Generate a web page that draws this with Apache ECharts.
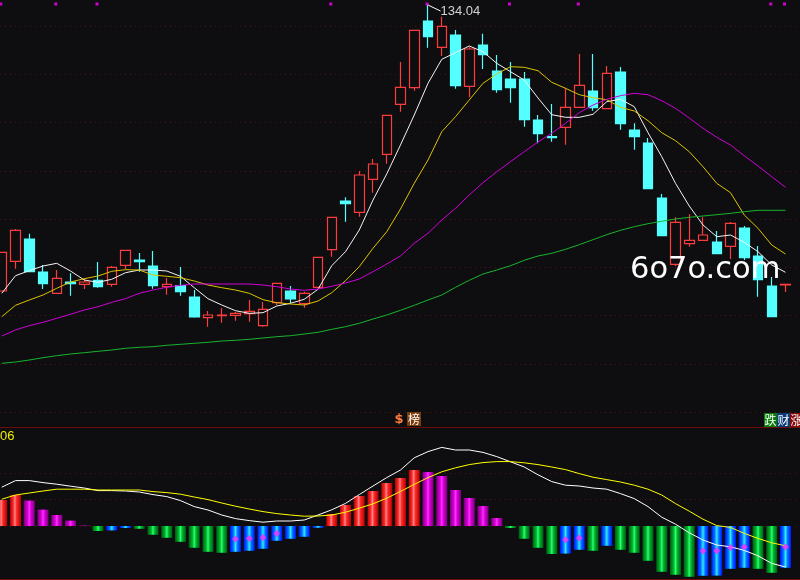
<!DOCTYPE html>
<html>
<head>
<meta charset="utf-8">
<script src="https://cdn.jsdelivr.net/npm/echarts@6/dist/echarts.min.js"></script>
<style>
html,body{margin:0;padding:0;background:#0e0e11;}
#c{width:800px;height:580px;}
</style>
</head>
<body>
<div id="c"></div>
<script>
// ---- data ----
const opens  = [76.84,82.78,87.24,80.64,76.38,78.64,78.18,78.98,78.18,81.98, 83.04,81.84,77.70,77.90,75.64,71.50,71.90,71.98,72.30,69.90, 74.50,76.84,74.30,77.58,85.10,94.84,92.58,99.18,104.18,114.18, 117.50,130.84,125.58,128.04,117.78,126.04,120.84,119.24,119.24,111.04, 107.70,109.58,113.58,116.84,113.30,120.64,109.04,106.44,95.44,82.18, 86.30,86.98,86.64,85.78,89.44,83.84,77.84,78.04];
const closes = [84.58,88.98,80.70,78.30,79.38,78.30,78.64,77.70,81.58,84.98, 82.70,77.90,78.18,76.70,71.64,72.04,72.04,72.38,72.78,73.18, 78.38,75.24,76.38,83.58,91.58,94.30,100.04,102.24,111.98,117.58, 128.98,127.70,129.78,117.90,125.24,124.10,117.10,117.50,111.10,108.30, 107.50,113.58,117.98,113.50,120.38,110.30,107.70,97.30,87.90,90.58, 86.98,88.04,84.30,90.38,83.50,79.10,71.70,78.18];
const lows   = [76.84,81.30,80.70,77.24,76.38,75.90,77.24,77.50,77.70,81.18, 80.70,77.30,76.10,75.90,71.50,69.70,70.50,70.90,70.70,69.64, 73.98,74.38,73.50,77.58,83.70,90.70,91.70,96.50,102.30,112.70, 116.90,125.50,123.84,117.30,115.58,121.24,116.50,114.50,109.70,106.38, 106.70,106.10,113.58,112.90,113.30,109.10,105.10,97.30,87.90,81.84, 85.70,86.98,84.30,83.24,83.04,75.70,71.70,76.64];
const highs  = [84.58,89.24,88.30,82.04,81.04,80.38,79.38,82.64,81.84,84.98, 84.44,84.84,79.44,81.64,77.04,72.84,73.44,72.64,75.04,74.64, 78.38,77.84,76.70,83.58,91.58,95.58,100.84,103.24,111.98,122.64, 128.98,134.04,131.70,129.04,125.70,128.30,124.04,122.64,120.64,112.04, 114.24,117.50,124.24,124.24,121.84,121.64,110.38,107.44,96.24,91.58, 92.18,91.58,88.84,90.64,89.84,85.84,79.64,78.18];

const ma5  = [76.38,79.90,80.90,81.84,82.38,80.84,79.04,78.58,79.18,80.50, 81.04,81.04,80.84,79.78,77.50,75.30,74.04,72.90,72.38,72.50, 73.84,74.38,75.18,77.18,81.90,84.70,89.04,95.04,100.26,106.06, 112.04,118.38,123.18,124.50,125.84,124.70,122.38,120.70,119.04,115.44, 112.10,111.58,111.58,112.18,114.70,115.18,113.70,108.50,103.70,98.38, 93.84,90.04,87.70,88.04,86.58,84.70,82.04,80.58];
const ma10 = [71.70,73.98,75.04,76.04,77.38,78.64,79.30,79.84,80.78,81.10, 81.04,80.04,79.78,79.50,78.84,78.04,77.50,77.04,76.38,75.10, 74.50,74.24,74.04,74.84,76.50,78.90,81.70,85.38,88.70,93.24, 98.38,103.04,108.70,111.70,115.04,118.38,120.24,121.70,121.58,120.90, 118.58,117.38,116.10,115.50,115.10,113.58,112.84,110.90,108.50,106.90, 104.70,101.70,98.38,96.50,92.04,89.38,86.04,84.24];
const ma20 = [67.84,69.04,69.90,70.58,71.38,72.18,73.04,73.70,74.58,75.30, 76.38,77.04,77.58,77.98,78.24,78.24,78.24,78.24,78.24,78.04, 77.70,77.24,76.98,77.24,77.78,78.44,79.24,80.70,82.24,83.84, 86.38,88.38,91.04,93.38,96.04,98.50,100.70,102.70,104.70,106.64, 108.38,110.38,112.50,114.04,115.18,115.90,116.38,116.10,114.90,113.38, 111.44,109.38,107.58,106.04,103.90,101.84,99.70,97.58];
const ma60 = [62.38,62.64,63.04,63.50,63.90,64.24,64.50,64.78,65.04,65.38, 65.58,65.70,65.98,66.18,66.38,66.58,66.84,66.98,67.18,67.44, 67.70,67.90,68.24,68.58,69.18,69.70,70.38,71.24,72.04,72.98, 73.98,75.04,76.04,77.58,78.98,80.24,81.04,81.90,82.98,83.84, 84.38,85.18,86.10,87.10,88.10,88.98,89.70,90.30,90.78,91.24, 91.58,91.84,92.10,92.38,92.70,92.98,92.98,92.98];

const macdHist = [1.30,1.55,1.27,0.82,0.55,0.27,0.02,-0.25,-0.22,-0.10, -0.14,-0.44,-0.59,-0.79,-1.09,-1.29,-1.34,-1.29,-1.24,-1.14, -0.74,-0.64,-0.54,-0.09,0.60,1.05,1.50,1.75,2.15,2.40, 2.80,2.70,2.50,1.80,1.40,1.00,0.40,-0.10,-0.64,-1.09, -1.40,-1.38,-1.19,-1.24,-0.99,-1.19,-1.34,-1.74,-2.29,-2.44, -2.54,-2.49,-2.48,-2.14,-2.09,-2.14,-2.34,-2.09];
const dif = [1.94,2.27,2.27,2.17,2.09,1.99,1.90,1.77,1.77,1.75, 1.70,1.57,1.47,1.27,0.97,0.80,0.55,0.37,0.27,0.19, 0.25,0.25,0.30,0.55,0.81,1.13,1.57,2.00,2.42,2.80, 3.41,3.72,3.93,3.80,3.80,3.68,3.47,3.21,2.95,2.56, 2.22,2.04,2.00,1.90,1.84,1.62,1.37,0.97,0.44,0.09, -0.34,-0.70,-0.95,-1.04,-1.22,-1.49,-1.87,-2.05];
const dea = [1.34,1.55,1.65,1.75,1.84,1.84,1.84,1.80,1.80,1.80, 1.80,1.72,1.67,1.59,1.45,1.32,1.15,0.99,0.85,0.72, 0.62,0.55,0.49,0.50,0.55,0.69,0.89,1.11,1.39,1.73, 2.08,2.42,2.71,2.91,3.07,3.17,3.22,3.22,3.16,3.07, 2.95,2.82,2.62,2.44,2.32,2.20,2.04,1.84,1.55,1.12, 0.74,0.34,0.02,-0.07,-0.37,-0.62,-0.84,-0.99];

const signalIdx = [17,18,19,20,41,42,51,52,53,54,57];   // diamonds on MACD bars
const markerIdx = [0,4,7,24,31,37,42,56,57];           // small squares at the top
const categories = opens.map((_, i) => 'D' + (i + 1));
const macdLabel = '06';
const watermark = '6o7o.com';

// ---- chart ----
const BG = '#0e0e11';
const PRICE_MIN = 49.64, PRICE_MAX = 135.04;
const GRIDLINE = {show: true, lineStyle: {color: '#4a1212', type: [1, 4], width: 1}};

function grad(stops) {
  return {type: 'linear', x: 0, y: 0, x2: 1, y2: 0,
    colorStops: stops.map(s => ({offset: s[0], color: s[1]}))};
}
const RED   = grad([[0,'#b00000'],[0.3,'#ff2a2a'],[0.45,'#ff8a8a'],[0.6,'#ff2a2a'],[1,'#b00000']]);
const MAG   = grad([[0,'#7a007a'],[0.35,'#d800d8'],[0.5,'#ff30ff'],[0.65,'#d800d8'],[1,'#7a007a']]);
const GREEN = grad([[0,'#005a10'],[0.35,'#00b830'],[0.5,'#30ff70'],[0.65,'#00b830'],[1,'#005a10']]);
const BLUE  = grad([[0,'#0010ff'],[0.3,'#0070ff'],[0.5,'#30e8ff'],[0.7,'#0070ff'],[1,'#0010ff']]);

const barData = macdHist.map((v, i) => {
  const rising = i === 0 ? true : v >= macdHist[i - 1];
  const c = v >= 0 ? (rising ? RED : MAG) : (rising ? BLUE : GREEN);
  return {value: v, itemStyle: {color: c}};
});

let hi = 0;
highs.forEach((h, i) => { if (h > highs[hi]) hi = i; });

function maLine(data, color) {
  return {type: 'line', xAxisIndex: 0, yAxisIndex: 0, data: data, symbol: 'none',
    smooth: false, silent: true, lineStyle: {color: color, width: 1}, z: 3};
}

const chart = echarts.init(document.getElementById('c'), null, {renderer: 'canvas'});
const option = {
  backgroundColor: BG,
  animation: false,
  grid: [
    {left: -5.125, width: 797.5, top: 0, height: 427, outerBoundsMode: 'none'},
    {left: 0, right: 0, top: 26, height: 386, outerBoundsMode: 'none'},
    {left: -5.125, width: 797.5, top: 427, height: 152, outerBoundsMode: 'none'},
    {left: 0, right: 0, top: 473, height: 53, outerBoundsMode: 'none'},
    {left: -3, right: -3, top: 427.5, height: 152, show: true, borderColor: '#6e0c0c', borderWidth: 1, backgroundColor: 'transparent', outerBoundsMode: 'none'}
  ],
  xAxis: [
    {type: 'category', gridIndex: 0, data: categories, show: false},
    {type: 'value', gridIndex: 1, min: 0, max: 1, show: false},
    {type: 'category', gridIndex: 2, data: categories, show: false},
    {type: 'value', gridIndex: 3, min: 0, max: 1, show: false},
    {type: 'value', gridIndex: 4, min: 0, max: 1, show: false}
  ],
  yAxis: [
    {type: 'value', gridIndex: 0, min: PRICE_MIN, max: PRICE_MAX, show: false},
    {type: 'value', gridIndex: 1, min: 0, max: 8, interval: 1, axisLine: {show: false}, axisTick: {show: false}, axisLabel: {show: false}, splitLine: GRIDLINE},
    {type: 'value', gridIndex: 2, min: -2.65, max: 4.95, show: false},
    {type: 'value', gridIndex: 3, min: 0, max: 2, interval: 1, axisLine: {show: false}, axisTick: {show: false}, axisLabel: {show: false}, splitLine: GRIDLINE},
    {type: 'value', gridIndex: 4, min: 0, max: 1, show: false}
  ],
  series: [
    {
      type: 'candlestick', xAxisIndex: 0, yAxisIndex: 0, silent: true,
      data: opens.map((o, i) => [o, closes[i], lows[i], highs[i]]),
      barWidth: 10,
      itemStyle: {color: BG, color0: '#54ffff', borderColor: '#ff3c3c', borderColor0: '#54ffff', borderWidth: 1.2},
      z: 2
    },
    maLine(ma5, '#f4f4f4'),
    maLine(ma10, '#dcc400'),
    maLine(ma20, '#d000d8'),
    maLine(ma60, '#18b42c'),
    {
      type: 'scatter', xAxisIndex: 0, yAxisIndex: 0, silent: true,
      data: markerIdx.map(i => [i, PRICE_MAX - 0.8]),
      symbol: 'rect', symbolSize: 3, symbolOffset: [-1, 0],
      itemStyle: {color: '#ff00ff'}, z: 4
    },
    {
      type: 'scatter', xAxisIndex: 0, yAxisIndex: 0, silent: true,
      data: [[hi, highs[hi]]], symbolSize: 1, itemStyle: {color: '#ffffff'},
      label: {show: true, position: 'right', distance: 0, formatter: highs[hi].toFixed(2),
        color: '#ffffff', fontSize: 13, fontFamily: 'Liberation Sans'},
      labelLayout: {dx: 12, dy: 6},
      labelLine: {show: true, lineStyle: {color: '#ffffff', width: 1}},
      z: 5
    },
    {
      type: 'bar', xAxisIndex: 2, yAxisIndex: 2, silent: true,
      data: barData, barWidth: 11, z: 2
    },
    {
      type: 'scatter', xAxisIndex: 2, yAxisIndex: 2, silent: true,
      data: signalIdx.map(i => [i, macdHist[i] / 2]),
      symbol: 'diamond', symbolSize: 7, itemStyle: {color: '#ff28ff'}, z: 4
    },
    {type: 'line', xAxisIndex: 2, yAxisIndex: 2, data: dif, symbol: 'none', silent: true,
      lineStyle: {color: '#ffffff', width: 1}, z: 3},
    {type: 'line', xAxisIndex: 2, yAxisIndex: 2, data: dea, symbol: 'none', silent: true,
      lineStyle: {color: '#ffff00', width: 1}, z: 3}
  ],
  graphic: [
    {type: 'text', x: 630, y: 270, z: 100, silent: true,
      style: {text: watermark, fill: '#ffffff', font: '30.5px "DejaVu Sans"', verticalAlign: 'middle', align: 'left'}},
    {type: 'text', x: 0, y: 430, z: 100, silent: true,
      style: {text: macdLabel, fill: '#eeee00', font: '13px "Liberation Sans"', verticalAlign: 'top'}},
    {type: 'text', x: 399, y: 420, z: 100, silent: true,
      style: {text: '$', fill: '#ff7a3a', font: 'bold 13px "DejaVu Sans"', align: 'center', verticalAlign: 'middle'}},
    {type: 'rect', x: 407, y: 412, z: 99, silent: true, shape: {width: 14, height: 14}, style: {fill: '#7a3c0c'}},
    {type: 'text', x: 414, y: 419, z: 100, silent: true,
      style: {text: '榜', fill: '#ffffff', font: '12px "Noto Sans CJK SC"', align: 'center', verticalAlign: 'middle'}},
    {type: 'rect', x: 764, y: 413, z: 99, silent: true, shape: {width: 13, height: 14}, style: {fill: '#087a08'}},
    {type: 'text', x: 770.5, y: 420, z: 100, silent: true,
      style: {text: '跌', fill: '#ffffff', font: '12px "Noto Sans CJK SC"', align: 'center', verticalAlign: 'middle'}},
    {type: 'rect', x: 777, y: 413, z: 99, silent: true, shape: {width: 13, height: 14}, style: {fill: '#0a3a7a'}},
    {type: 'text', x: 783.5, y: 420, z: 100, silent: true,
      style: {text: '财', fill: '#ffffff', font: '12px "Noto Sans CJK SC"', align: 'center', verticalAlign: 'middle'}},
    {type: 'rect', x: 790, y: 413, z: 99, silent: true, shape: {width: 13, height: 14}, style: {fill: '#860a0a'}},
    {type: 'text', x: 796.5, y: 420, z: 100, silent: true,
      style: {text: '涨', fill: '#ffffff', font: '12px "Noto Sans CJK SC"', align: 'center', verticalAlign: 'middle'}}
  ]
};
chart.setOption(option);
</script>
</body>
</html>
